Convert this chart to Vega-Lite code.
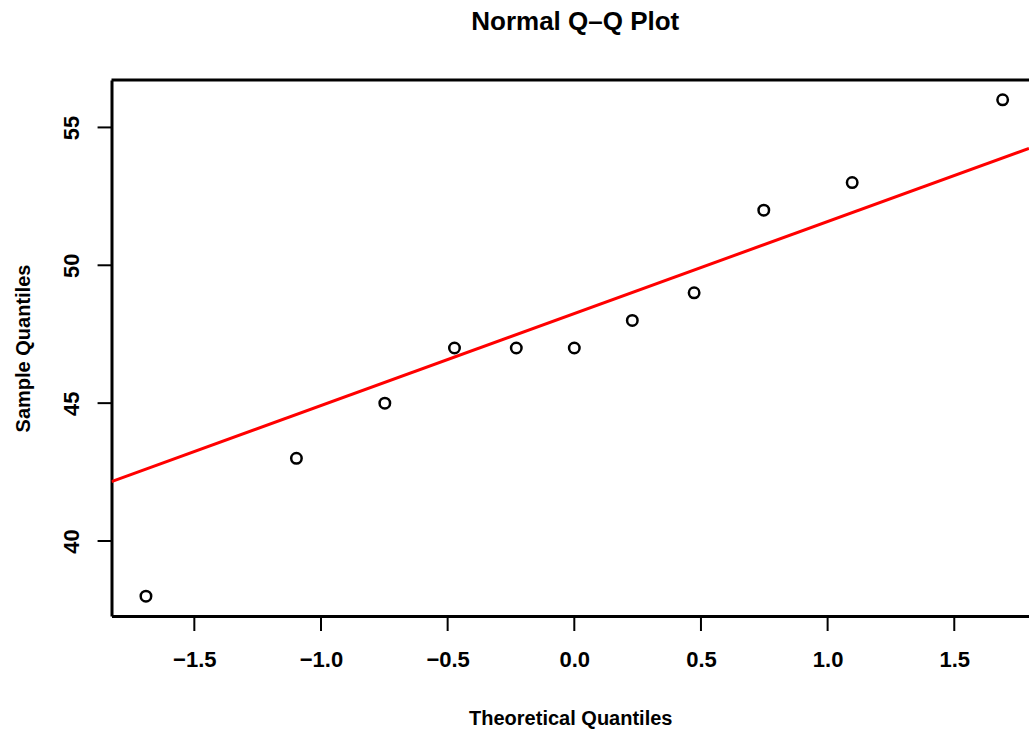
{
  "$schema": "https://vega.github.io/schema/vega-lite/v6.json",
  "autosize": "none",
  "width": 917.5,
  "height": 536,
  "padding": {"left": 111.5, "top": 80, "right": 0, "bottom": 118},
  "background": "white",
  "config": {"view": {"stroke": null}, "font": "Liberation Sans"},
  "title": {"text": "Normal Q–Q Plot", "fontSize": 26, "fontWeight": "bold", "font": "Liberation Sans", "offset": 39, "dx": 5, "color": "black"},
  "datasets": {
    "pts": [
      {"theoretical": -1.691, "sample": 38},
      {"theoretical": -1.097, "sample": 43},
      {"theoretical": -0.748, "sample": 45},
      {"theoretical": -0.473, "sample": 47},
      {"theoretical": -0.229, "sample": 47},
      {"theoretical": 0.0, "sample": 47},
      {"theoretical": 0.229, "sample": 48},
      {"theoretical": 0.473, "sample": 49},
      {"theoretical": 0.748, "sample": 52},
      {"theoretical": 1.097, "sample": 53},
      {"theoretical": 1.691, "sample": 56}
    ],
    "qqline": [
      {"theoretical": -1.827, "sample": 42.155},
      {"theoretical": 1.795, "sample": 54.238}
    ],
    "box": [
      {"theoretical": -1.827, "sample": 56.72},
      {"theoretical": 1.795, "sample": 56.72}
    ],
    "ticklines": [
      {"tick": "x-1.5", "theoretical": -1.5, "sample": 37.28}, {"tick": "x-1.5", "theoretical": -1.5, "sample": 36.736},
      {"tick": "x-1.0", "theoretical": -1.0, "sample": 37.28}, {"tick": "x-1.0", "theoretical": -1.0, "sample": 36.736},
      {"tick": "x-0.5", "theoretical": -0.5, "sample": 37.28}, {"tick": "x-0.5", "theoretical": -0.5, "sample": 36.736},
      {"tick": "x0.0", "theoretical": 0.0, "sample": 37.28}, {"tick": "x0.0", "theoretical": 0.0, "sample": 36.736},
      {"tick": "x0.5", "theoretical": 0.5, "sample": 37.28}, {"tick": "x0.5", "theoretical": 0.5, "sample": 36.736},
      {"tick": "x1.0", "theoretical": 1.0, "sample": 37.28}, {"tick": "x1.0", "theoretical": 1.0, "sample": 36.736},
      {"tick": "x1.5", "theoretical": 1.5, "sample": 37.28}, {"tick": "x1.5", "theoretical": 1.5, "sample": 36.736},
      {"tick": "y40", "theoretical": -1.827, "sample": 40}, {"tick": "y40", "theoretical": -1.882, "sample": 40},
      {"tick": "y45", "theoretical": -1.827, "sample": 45}, {"tick": "y45", "theoretical": -1.882, "sample": 45},
      {"tick": "y50", "theoretical": -1.827, "sample": 50}, {"tick": "y50", "theoretical": -1.882, "sample": 50},
      {"tick": "y55", "theoretical": -1.827, "sample": 55}, {"tick": "y55", "theoretical": -1.882, "sample": 55}
    ]
  },
  "layer": [
    {
      "data": {"name": "qqline"},
      "mark": {"type": "line", "color": "#ff0000", "strokeWidth": 3, "clip": true},
      "encoding": {
        "x": {"field": "theoretical", "type": "quantitative",
              "scale": {"domain": [-1.827, 1.795], "nice": false, "zero": false},
              "axis": {"orient": "bottom", "values": [-1.5, -1, -0.5, 0, 0.5, 1, 1.5], "format": ".1f",
                       "title": "Theoretical Quantiles", "grid": false,
                       "domainColor": "black", "domainWidth": 3,
                       "ticks": true, "tickSize": 15, "tickOpacity": 0,
                       "labelFontSize": 22, "labelFontWeight": "bold", "labelColor": "black", "labelPadding": 18,
                       "titleFontSize": 20, "titleFontWeight": "bold", "titleColor": "black", "titlePadding": 38,
                       "labelFlush": false}},
        "y": {"field": "sample", "type": "quantitative",
              "scale": {"domain": [37.28, 56.72], "nice": false, "zero": false},
              "axis": {"orient": "left", "values": [40, 45, 50, 55], "title": "Sample Quantiles", "grid": false,
                       "domainColor": "black", "domainWidth": 3,
                       "ticks": true, "tickSize": 14, "tickOpacity": 0,
                       "labelAngle": -90, "labelAlign": "center", "labelBaseline": "bottom",
                       "labelFontSize": 22, "labelFontWeight": "bold", "labelColor": "black", "labelPadding": 14,
                       "titleFontSize": 20, "titleFontWeight": "bold", "titleColor": "black", "titlePadding": 27,
                       "labelFlush": false}}
      }
    },
    {
      "data": {"name": "pts"},
      "mark": {"type": "point", "shape": "circle", "filled": false, "color": "black", "opacity": 1, "strokeWidth": 2.5, "size": 110},
      "encoding": {
        "x": {"field": "theoretical", "type": "quantitative"},
        "y": {"field": "sample", "type": "quantitative"}
      }
    },
    {
      "data": {"name": "box"},
      "mark": {"type": "line", "stroke": "black", "strokeWidth": 3, "clip": false},
      "encoding": {
        "x": {"field": "theoretical", "type": "quantitative"},
        "y": {"field": "sample", "type": "quantitative"}
      }
    },
    {
      "data": {"name": "ticklines"},
      "mark": {"type": "line", "stroke": "black", "strokeWidth": 2, "clip": false},
      "encoding": {
        "x": {"field": "theoretical", "type": "quantitative"},
        "y": {"field": "sample", "type": "quantitative"},
        "detail": {"field": "tick", "type": "nominal"}
      }
    }
  ]
}
